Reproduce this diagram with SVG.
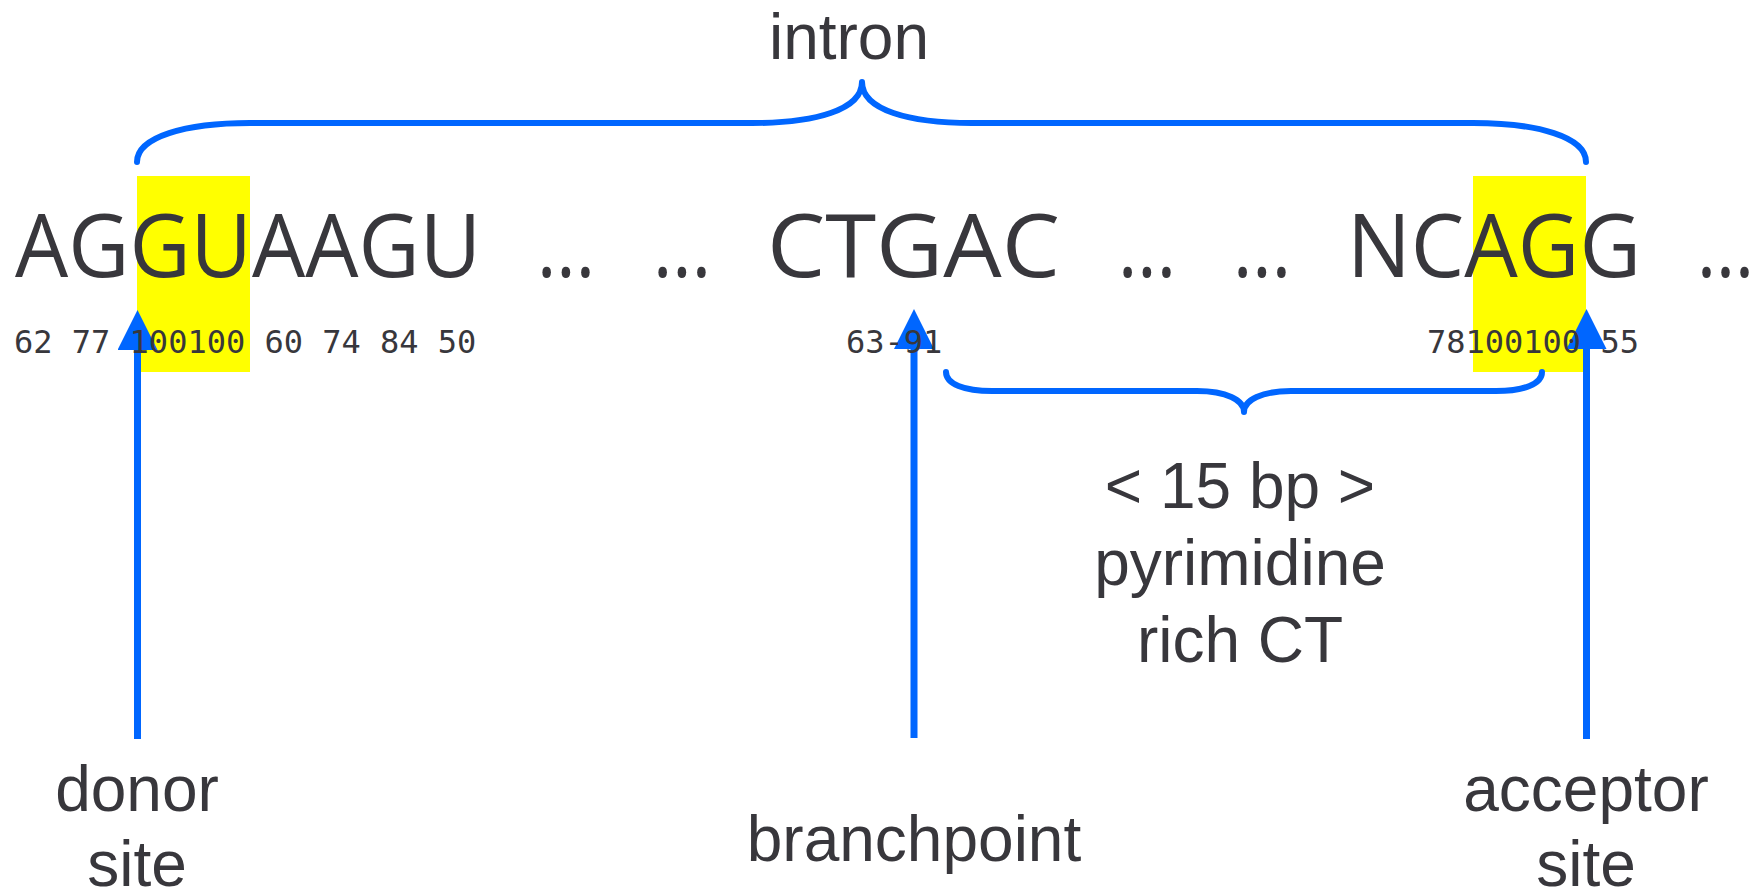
<svg xmlns="http://www.w3.org/2000/svg" width="1760" height="893" viewBox="0 0 1760 893">
  <style>
    .seq { font-family: "Open Sans", "Noto Sans", sans-serif; font-size: 87px; font-weight: 500; fill: #38373c; }
    .num { font-family: "DejaVu Sans Mono", "Liberation Mono", monospace; font-size: 32px; fill: #38373c; }
    .lbl { font-family: "Liberation Sans", Arial, sans-serif; font-size: 64px; fill: #38373c; text-anchor: middle; }
    .hl { fill: #ffff00; }
    .brace { fill: none; stroke: #0066ff; stroke-width: 6; stroke-linecap: round; stroke-linejoin: round; }
    .arrow { fill: none; stroke: #0066ff; stroke-width: 7; }
  </style>
  <defs>
    <marker id="head" viewBox="0 0 40 40" refX="0" refY="20" markerWidth="40" markerHeight="40" markerUnits="userSpaceOnUse" orient="auto">
      <path d="M0,0 L40,20 L0,40 Z" fill="#0066ff"/>
    </marker>
  </defs>

  <!-- highlighted splice dinucleotides -->
  <rect class="hl" x="137" y="176" width="113" height="196"/>
  <rect class="hl" x="1473" y="176" width="113" height="196"/>

  <g id="connectors">
    <!-- intron brace -->
    <path class="brace" d="M137,162 C137,137 185,123 250,123 L752,123 C815,123 862,110 862,82 C862,110 909,123 972,123 L1473,123 C1538,123 1586,137 1586,162"/>
    <!-- polypyrimidine tract brace -->
    <path class="brace" d="M946,372 C946,384 964,391 992,391 L1197,391 C1226,391 1244,400 1244,412 C1244,400 1262,391 1291,391 L1496,391 C1524,391 1542,384 1542,372"/>
    <!-- site arrows -->
    <path class="arrow" d="M137.5,739 L137.5,350" marker-end="url(#head)"/>
    <path class="arrow" d="M914,738 L914,349" marker-end="url(#head)"/>
    <path class="arrow" d="M1586.5,739 L1586.5,349" marker-end="url(#head)"/>
  </g>

  <g id="sequence">
    <text class="seq" x="15" y="277" textLength="466" lengthAdjust="spacingAndGlyphs">AGGUAAGU</text>
    <text class="seq" x="537" y="277" textLength="58" lengthAdjust="spacingAndGlyphs">...</text>
    <text class="seq" x="653" y="277" textLength="58" lengthAdjust="spacingAndGlyphs">...</text>
    <text class="seq" x="767" y="277" textLength="293" lengthAdjust="spacingAndGlyphs">CTGAC</text>
    <text class="seq" x="1118" y="277" textLength="58" lengthAdjust="spacingAndGlyphs">...</text>
    <text class="seq" x="1233" y="277" textLength="58" lengthAdjust="spacingAndGlyphs">...</text>
    <text class="seq" x="1347" y="277" textLength="294" lengthAdjust="spacingAndGlyphs">NCAGG</text>
    <text class="seq" x="1697" y="277" textLength="57" lengthAdjust="spacingAndGlyphs">...</text>
  </g>

  <g id="scores">
    <text class="num" x="14" y="353" xml:space="preserve">62 77 100100 60 74 84 50</text>
    <text class="num" x="846" y="353">63-91</text>
    <text class="num" x="1427" y="353" xml:space="preserve">78100100 55</text>
  </g>

  <g id="intron">
    <text class="lbl" x="849" y="59">intron</text>
  </g>
  <g id="tract">
    <text class="lbl" x="1240" y="508">&lt; 15 bp &gt;</text>
    <text class="lbl" x="1240" y="585">pyrimidine</text>
    <text class="lbl" x="1240" y="662">rich CT</text>
  </g>
  <g id="donor">
    <text class="lbl" x="137" y="811">donor</text>
    <text class="lbl" x="137" y="886">site</text>
  </g>
  <g id="branchpoint">
    <text class="lbl" x="914" y="861">branchpoint</text>
  </g>
  <g id="acceptor">
    <text class="lbl" x="1586" y="811">acceptor</text>
    <text class="lbl" x="1586" y="886">site</text>
  </g>
</svg>
